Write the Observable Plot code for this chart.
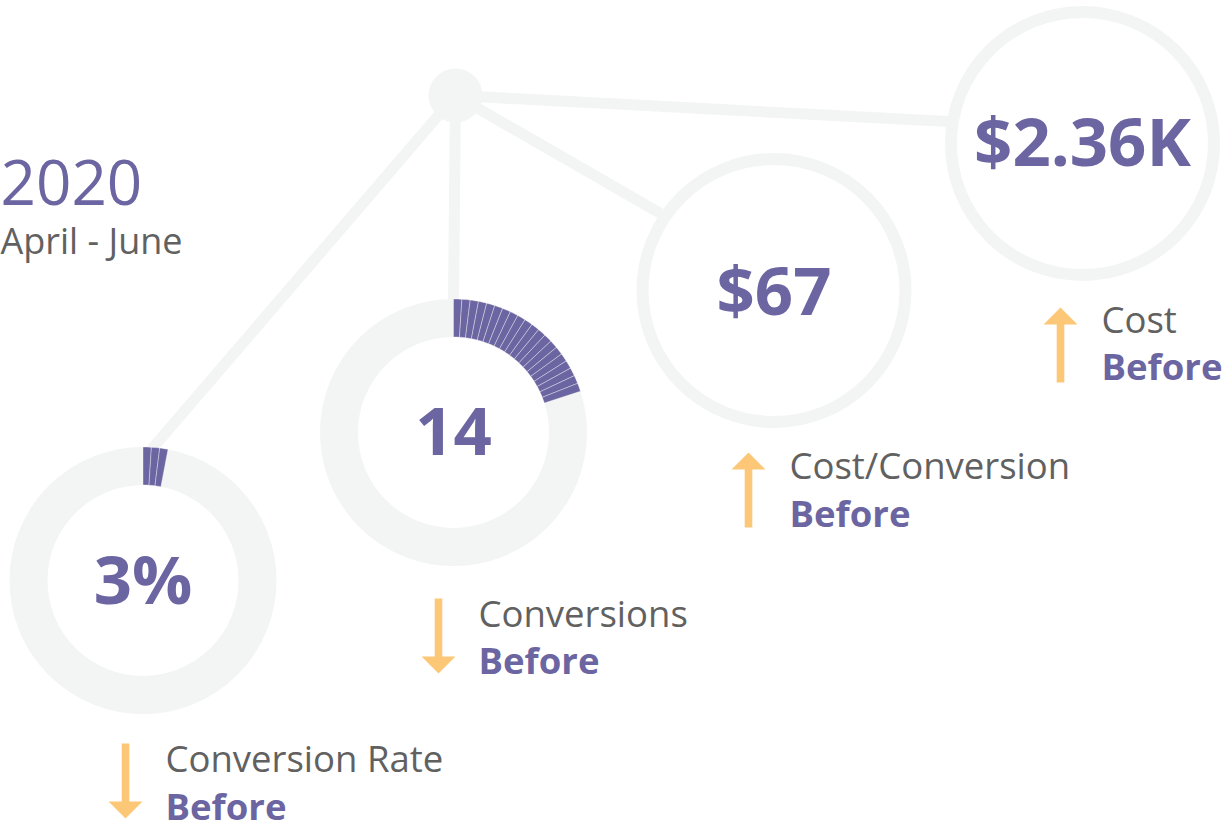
<!DOCTYPE html>
<html><head><meta charset="utf-8">
<script src="https://cdn.jsdelivr.net/npm/d3@7"></script>
<script src="https://cdn.jsdelivr.net/npm/@observablehq/plot@0.6"></script>
<style>body{margin:0;background:#fff;overflow:hidden}</style>
</head><body><div id="chart"></div>
<script>
// ---- data ----
const metrics = ["Conversion Rate", "Conversions", "Cost/Conversion", "Cost"];
const valueLabels = ["3%", "14", "$67", "$2.36K"];
const ringPercent = [3, 20, 0, 0];          // filled share of the gauge (1 segment = 1%)
const hasGauge = [true, true, false, false];
const trend = ["down", "down", "up", "up"];
const compareLabel = "Before";
const periodYear = "2020";
const periodRange = "April - June";

// ---- layout (pixel space) ----
const W = 1226, H = 832;
const PURPLE = "#6b65a1", GRAYTXT = "#616161", LIGHT = "#f3f4f4", ORANGE = "#fdc778";
const nodeCx = [142.5, 453, 773.5, 1082];
const nodeCy = [580, 432, 290, 143];
const valueCy = [582, 433, 293, 144];
const linkEnd = [[150, 450], [453, 300], [660, 213], [948, 121]];
const hub = {x: 455, y: 95};
const arrowX = [125, 438, 748, 1060];
const arrowStart = [743, 598, 527, 382];
const labelX = [165, 478, 789, 1101];
const labelCy = [760, 614.5, 467, 320.5];

const idx = d3.range(metrics.length);
const nodes = idx.map(i => ({i, cx: nodeCx[i], cy: nodeCy[i], vy: valueCy[i], value: valueLabels[i], gauge: hasGauge[i], pct: ringPercent[i]}));
const links = idx.map(i => ({x1: hub.x, y1: hub.y, x2: linkEnd[i][0], y2: linkEnd[i][1]}));

// gauge segments: polygons built from the percent values
const R_OUT = 133.5, R_IN = 95.5, STEP = 3.6;
const segPts = [];
nodes.filter(n => n.gauge).forEach(n => {
  for (let k = 0; k < n.pct; k++) {
    const a0 = k * STEP, a1 = (k + 1) * STEP, id = n.i + "-" + k;
    const pts = [];
    for (let s = 0; s <= 4; s++) pts.push([R_OUT, a0 + (a1 - a0) * s / 4]);
    for (let s = 4; s >= 0; s--) pts.push([R_IN, a0 + (a1 - a0) * s / 4]);
    pts.push([R_OUT, a0]);
    pts.forEach(([r, a]) => {
      const t = a * Math.PI / 180;
      segPts.push({id, x: n.cx + r * Math.sin(t), y: n.cy - r * Math.cos(t)});
    });
  }
});

const arrows = idx.map(i => ({x: arrowX[i], y: arrowStart[i], rot: trend[i] === "up" ? 0 : 180}));
const labels = idx.map(i => ({x: labelX[i], y: labelCy[i], t: metrics[i]}));
const befores = idx.map(i => ({x: labelX[i], y: labelCy[i] + 47.5, t: compareLabel}));

const arrowShape = {
  draw(ctx, l) {
    const h = 17, hw = 17, sw = 3.8;
    ctx.moveTo(-sw, 0);
    ctx.lineTo(-sw, -(l - h));
    ctx.lineTo(-hw, -(l - h));
    ctx.lineTo(0, -l);
    ctx.lineTo(hw, -(l - h));
    ctx.lineTo(sw, -(l - h));
    ctx.lineTo(sw, 0);
    ctx.closePath();
  }
};

const FONT = "Open Sans";
const chart = Plot.plot({
  width: W, height: H, margin: 0,
  x: {domain: [0, W], range: [0, W], axis: null},
  y: {domain: [0, H], range: [0, H], axis: null},
  marks: [
    Plot.link(links, {x1: "x1", y1: "y1", x2: "x2", y2: "y2", stroke: LIGHT, strokeWidth: 11}),
    // plain circles
    Plot.dot(nodes.filter(n => !n.gauge), {x: "cx", y: "cy", r: 131.5, fill: "white", stroke: LIGHT, strokeWidth: 12}),
    // gauge rings
    Plot.dot(nodes.filter(n => n.gauge), {x: "cx", y: "cy", r: (R_OUT + R_IN) / 2, fill: "none", stroke: LIGHT, strokeWidth: R_OUT - R_IN}),
    Plot.line(segPts, {x: "x", y: "y", z: "id", fill: PURPLE, stroke: "#ffffff", strokeOpacity: 0.45, strokeWidth: 0.8, curve: "linear"}),
    Plot.dot([hub], {x: "x", y: "y", r: 27, fill: LIGHT, stroke: "none"}),
    Plot.text(nodes, {x: "cx", y: "vy", text: "value", fill: PURPLE, fontSize: 67, fontWeight: "bold", fontFamily: FONT}),
    Plot.vector(arrows, {x: "x", y: "y", rotate: "rot", length: 75, anchor: "start", shape: arrowShape, fill: ORANGE, stroke: "none"}),
    Plot.text(labels, {x: "x", y: "y", text: "t", textAnchor: "start", fill: GRAYTXT, fontSize: 36.5, fontFamily: FONT}),
    Plot.text(befores, {x: "x", y: "y", text: "t", textAnchor: "start", fill: PURPLE, fontSize: 36.5, fontWeight: "bold", fontFamily: FONT}),
    Plot.text([periodYear], {x: () => 0, y: () => 185, text: d => d, textAnchor: "start", fill: PURPLE, fontSize: 62, fontFamily: FONT}),
    Plot.text([periodRange], {x: () => 0, y: () => 242, text: d => d, textAnchor: "start", fill: GRAYTXT, fontSize: 36, fontFamily: FONT})
  ]
});
document.getElementById("chart").appendChild(chart);
</script>
</body></html>
